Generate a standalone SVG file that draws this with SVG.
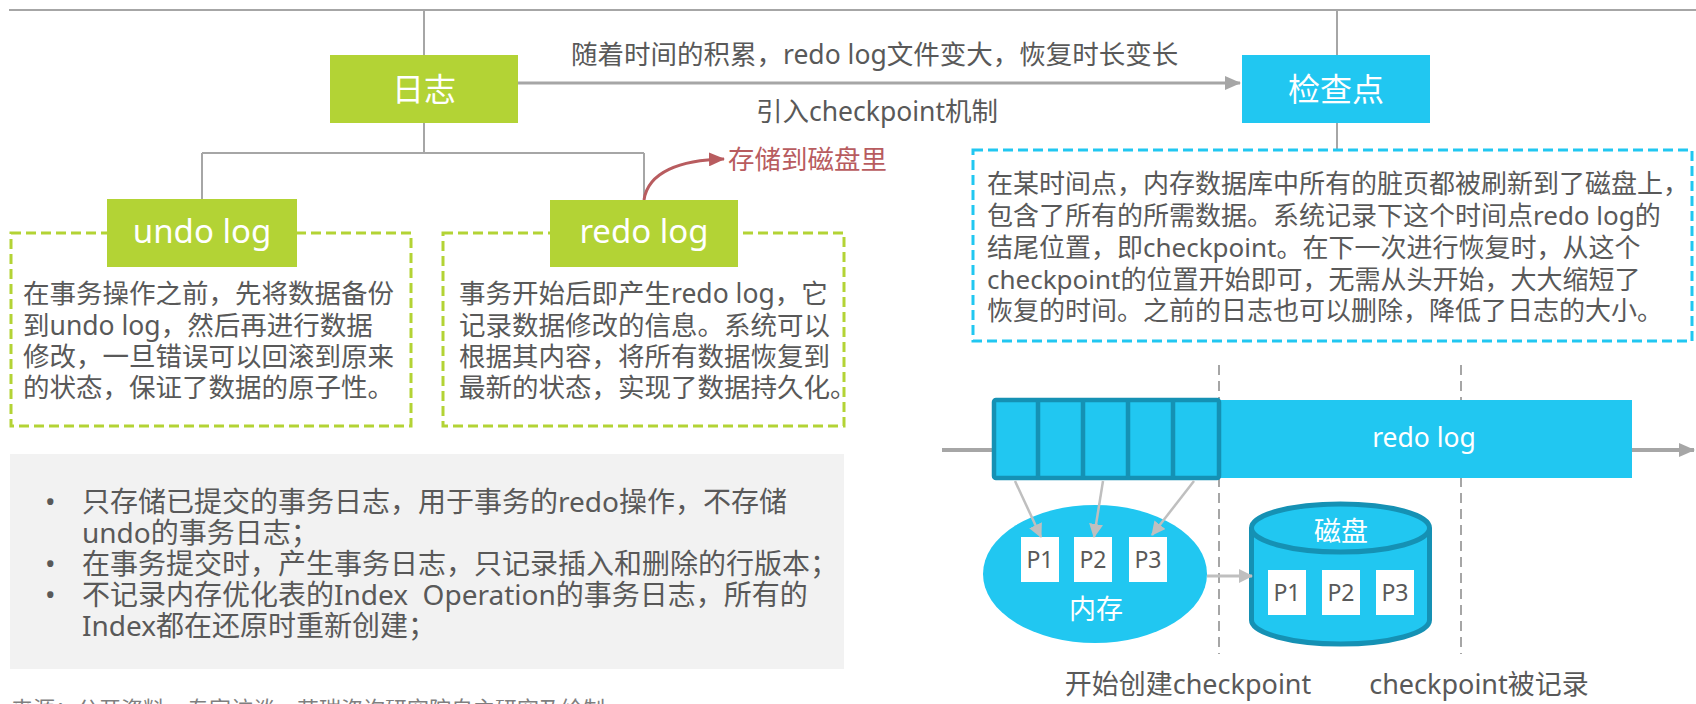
<svg xmlns="http://www.w3.org/2000/svg" width="1696" height="704" viewBox="0 0 1696 704">
<style>
.ln{stroke:#a6a6a6;fill:none;stroke-width:2}
.t{font-family:'Noto Sans','Noto Sans CJK SC',sans-serif;fill:#595959}
.w{fill:#fff}
.gr{fill:#b3d335}
.cy{fill:#21c7f1}
.dk{stroke:#1591b4}
.dg{fill:none;stroke:#b3d335;stroke-width:3;stroke-dasharray:10 5}
.dc{fill:none;stroke:#21c7f1;stroke-width:3;stroke-dasharray:10 5}
.dv{stroke:#a6a6a6;stroke-width:2;stroke-dasharray:10 6}
.pb{fill:#fff}
</style>
<defs>
<marker id="ag" viewBox="0 0 16 14" markerWidth="16" markerHeight="14" refX="15" refY="7" orient="auto" markerUnits="userSpaceOnUse"><path d="M0,0 L16,7 L0,14 z" fill="#a6a6a6"/></marker>
<marker id="al" viewBox="0 0 14 14" markerWidth="14" markerHeight="14" refX="13" refY="7" orient="auto" markerUnits="userSpaceOnUse"><path d="M0,0 L14,7 L0,14 z" fill="#bfbfbf"/></marker>
<marker id="ar" viewBox="0 0 16 14" markerWidth="16" markerHeight="14" refX="15" refY="7" orient="auto" markerUnits="userSpaceOnUse"><path d="M0,0 L16,7 L0,14 z" fill="#b85c5f"/></marker>
</defs>

<g id="connectors">
<path class="ln" d="M9,10 H1696"/>
<path class="ln" d="M424,10 V55 M1337,10 V55 M1337,123 V150"/>
<path class="ln" d="M424,123 V153 M202,153 H644 M202,153 V199 M644,153 V200"/>
<path class="ln" d="M518,83 H1240" style="stroke-width:3" marker-end="url(#ag)"/>
<path d="M644,200 C648,172 680,160 724,159" fill="none" stroke="#b85c5f" stroke-width="3" marker-end="url(#ar)"/>
</g>

<g id="top-labels">
<text class="t" x="571" y="64" font-size="26.5">随着时间的积累，redo log文件变大，恢复时长变长</text>
<text class="t" x="756" y="121" font-size="26.5">引入checkpoint机制</text>
<text class="t" x="728" y="169" font-size="26.5" style="fill:#b85c5f">存储到磁盘里</text>
</g>

<g id="node-rizhi">
<rect class="gr" x="330" y="55" width="188" height="68"/>
<text class="t w" x="424" y="101" font-size="32" text-anchor="middle">日志</text>
</g>

<g id="node-jianchadian">
<rect class="cy" x="1242" y="55" width="188" height="68"/>
<text class="t w" x="1336" y="101" font-size="32" text-anchor="middle">检查点</text>
</g>

<g id="node-undo">
<rect class="dg" x="11" y="233" width="400" height="193"/>
<rect class="gr" x="107" y="199" width="190" height="68"/>
<text class="t w" x="202" y="243" font-size="33" text-anchor="middle">undo log</text>
<text class="t" font-size="26.5"><tspan x="23" y="303">在事务操作之前，先将数据备份</tspan><tspan x="23" y="335">到undo log，然后再进行数据</tspan><tspan x="23" y="366">修改，一旦错误可以回滚到原来</tspan><tspan x="23" y="397">的状态，保证了数据的原子性。</tspan></text>
</g>

<g id="node-redo">
<rect class="dg" x="443" y="233" width="401" height="193"/>
<rect class="gr" x="550" y="200" width="188" height="67"/>
<text class="t w" x="644" y="243" font-size="33" text-anchor="middle">redo log</text>
<text class="t" font-size="26.5"><tspan x="459" y="303">事务开始后即产生redo log，它</tspan><tspan x="459" y="335">记录数据修改的信息。系统可以</tspan><tspan x="459" y="366">根据其内容，将所有数据恢复到</tspan><tspan x="459" y="397">最新的状态，实现了数据持久化。</tspan></text>
</g>

<g id="node-checkpoint-desc">
<rect class="dc" x="973" y="150" width="719" height="191"/>
<text class="t" font-size="26"><tspan x="987" y="193">在某时间点，内存数据库中所有的脏页都被刷新到了磁盘上，</tspan><tspan x="987" y="225">包含了所有的所需数据。系统记录下这个时间点redo log的</tspan><tspan x="987" y="257">结尾位置，即checkpoint。在下一次进行恢复时，从这个</tspan><tspan x="987" y="289">checkpoint的位置开始即可，无需从头开始，大大缩短了</tspan><tspan x="987" y="320">恢复的时间。之前的日志也可以删除，降低了日志的大小。</tspan></text>
</g>

<g id="node-notes">
<rect x="10" y="454" width="834" height="215" fill="#f2f2f2"/>
<g class="t" font-size="28">
<text x="45" y="512">•</text>
<text x="82" y="512">只存储已提交的事务日志，用于事务的redo操作，不存储</text>
<text x="82" y="543">undo的事务日志；</text>
<text x="45" y="574">•</text>
<text x="82" y="574">在事务提交时，产生事务日志，只记录插入和删除的行版本；</text>
<text x="45" y="605">•</text>
<text x="82" y="605" xml:space="preserve">不记录内存优化表的Index  Operation的事务日志，所有的</text>
<text x="82" y="636">Index都在还原时重新创建；</text>
</g>
</g>

<g id="source">
<text class="t" x="11" y="717" font-size="22" style="fill:#7f7f7f">来源：公开资料，专家访谈，艾瑞咨询研究院自主研究及绘制</text>
</g>

<g id="checkpoint-diagram">
<path class="dv" d="M1219,365 V654 M1461,365 V654"/>
<path class="ln" d="M942,450 H994" style="stroke-width:4"/>
<path class="ln" d="M1630,450 H1694" style="stroke-width:4" marker-end="url(#ag)"/>
<g id="node-redo-bar">
<rect class="cy" x="1218" y="400" width="414" height="78"/>
<rect class="cy dk" x="994" y="400" width="225" height="78" rx="2" stroke-width="4.5"/>
<path class="dk" d="M1038,400 V478 M1083,400 V478 M1128,400 V478 M1173,400 V478" stroke-width="4.5"/>
<text class="t w" x="1424" y="447" font-size="26.5" text-anchor="middle">redo log</text>
</g>
<g id="node-memory">
<ellipse class="cy" cx="1095" cy="574" rx="112" ry="69"/>
<rect class="pb" x="1021" y="537" width="38" height="45"/>
<rect class="pb" x="1074" y="537" width="38" height="45"/>
<rect class="pb" x="1129" y="537" width="38" height="45"/>
<g class="t" font-size="23" text-anchor="middle">
<text x="1040" y="568">P1</text><text x="1093" y="568">P2</text><text x="1148" y="568">P3</text>
</g>
<text class="t w" x="1096" y="619" font-size="27" text-anchor="middle">内存</text>
</g>
<g id="node-disk">
<path class="cy dk" stroke-width="5" d="M1251.5,528 V620 A89,24 0 0 0 1429.5,620 V528"/>
<ellipse class="cy dk" stroke-width="5" cx="1340.5" cy="528" rx="89" ry="24"/>
<text class="t w" x="1341" y="541" font-size="27" text-anchor="middle">磁盘</text>
<rect class="pb" x="1268" y="570" width="38" height="45"/>
<rect class="pb" x="1322" y="570" width="38" height="45"/>
<rect class="pb" x="1376" y="570" width="38" height="45"/>
<g class="t" font-size="23" text-anchor="middle">
<text x="1287" y="601">P1</text><text x="1341" y="601">P2</text><text x="1395" y="601">P3</text>
</g>
</g>
<g id="diagram-arrows">
<path d="M1015,481 L1041,537" stroke="#bfbfbf" stroke-width="2.5" marker-end="url(#al)"/>
<path d="M1103,481 L1094,537" stroke="#bfbfbf" stroke-width="2.5" marker-end="url(#al)"/>
<path d="M1194,481 L1152,535" stroke="#bfbfbf" stroke-width="2.5" marker-end="url(#al)"/>
<path d="M1207,576 H1252" stroke="#bfbfbf" stroke-width="3" marker-end="url(#al)"/>
</g>
<text class="t" x="1188" y="694" font-size="27" text-anchor="middle">开始创建checkpoint</text>
<text class="t" x="1479" y="694" font-size="27" text-anchor="middle">checkpoint被记录</text>
</g>
</svg>
